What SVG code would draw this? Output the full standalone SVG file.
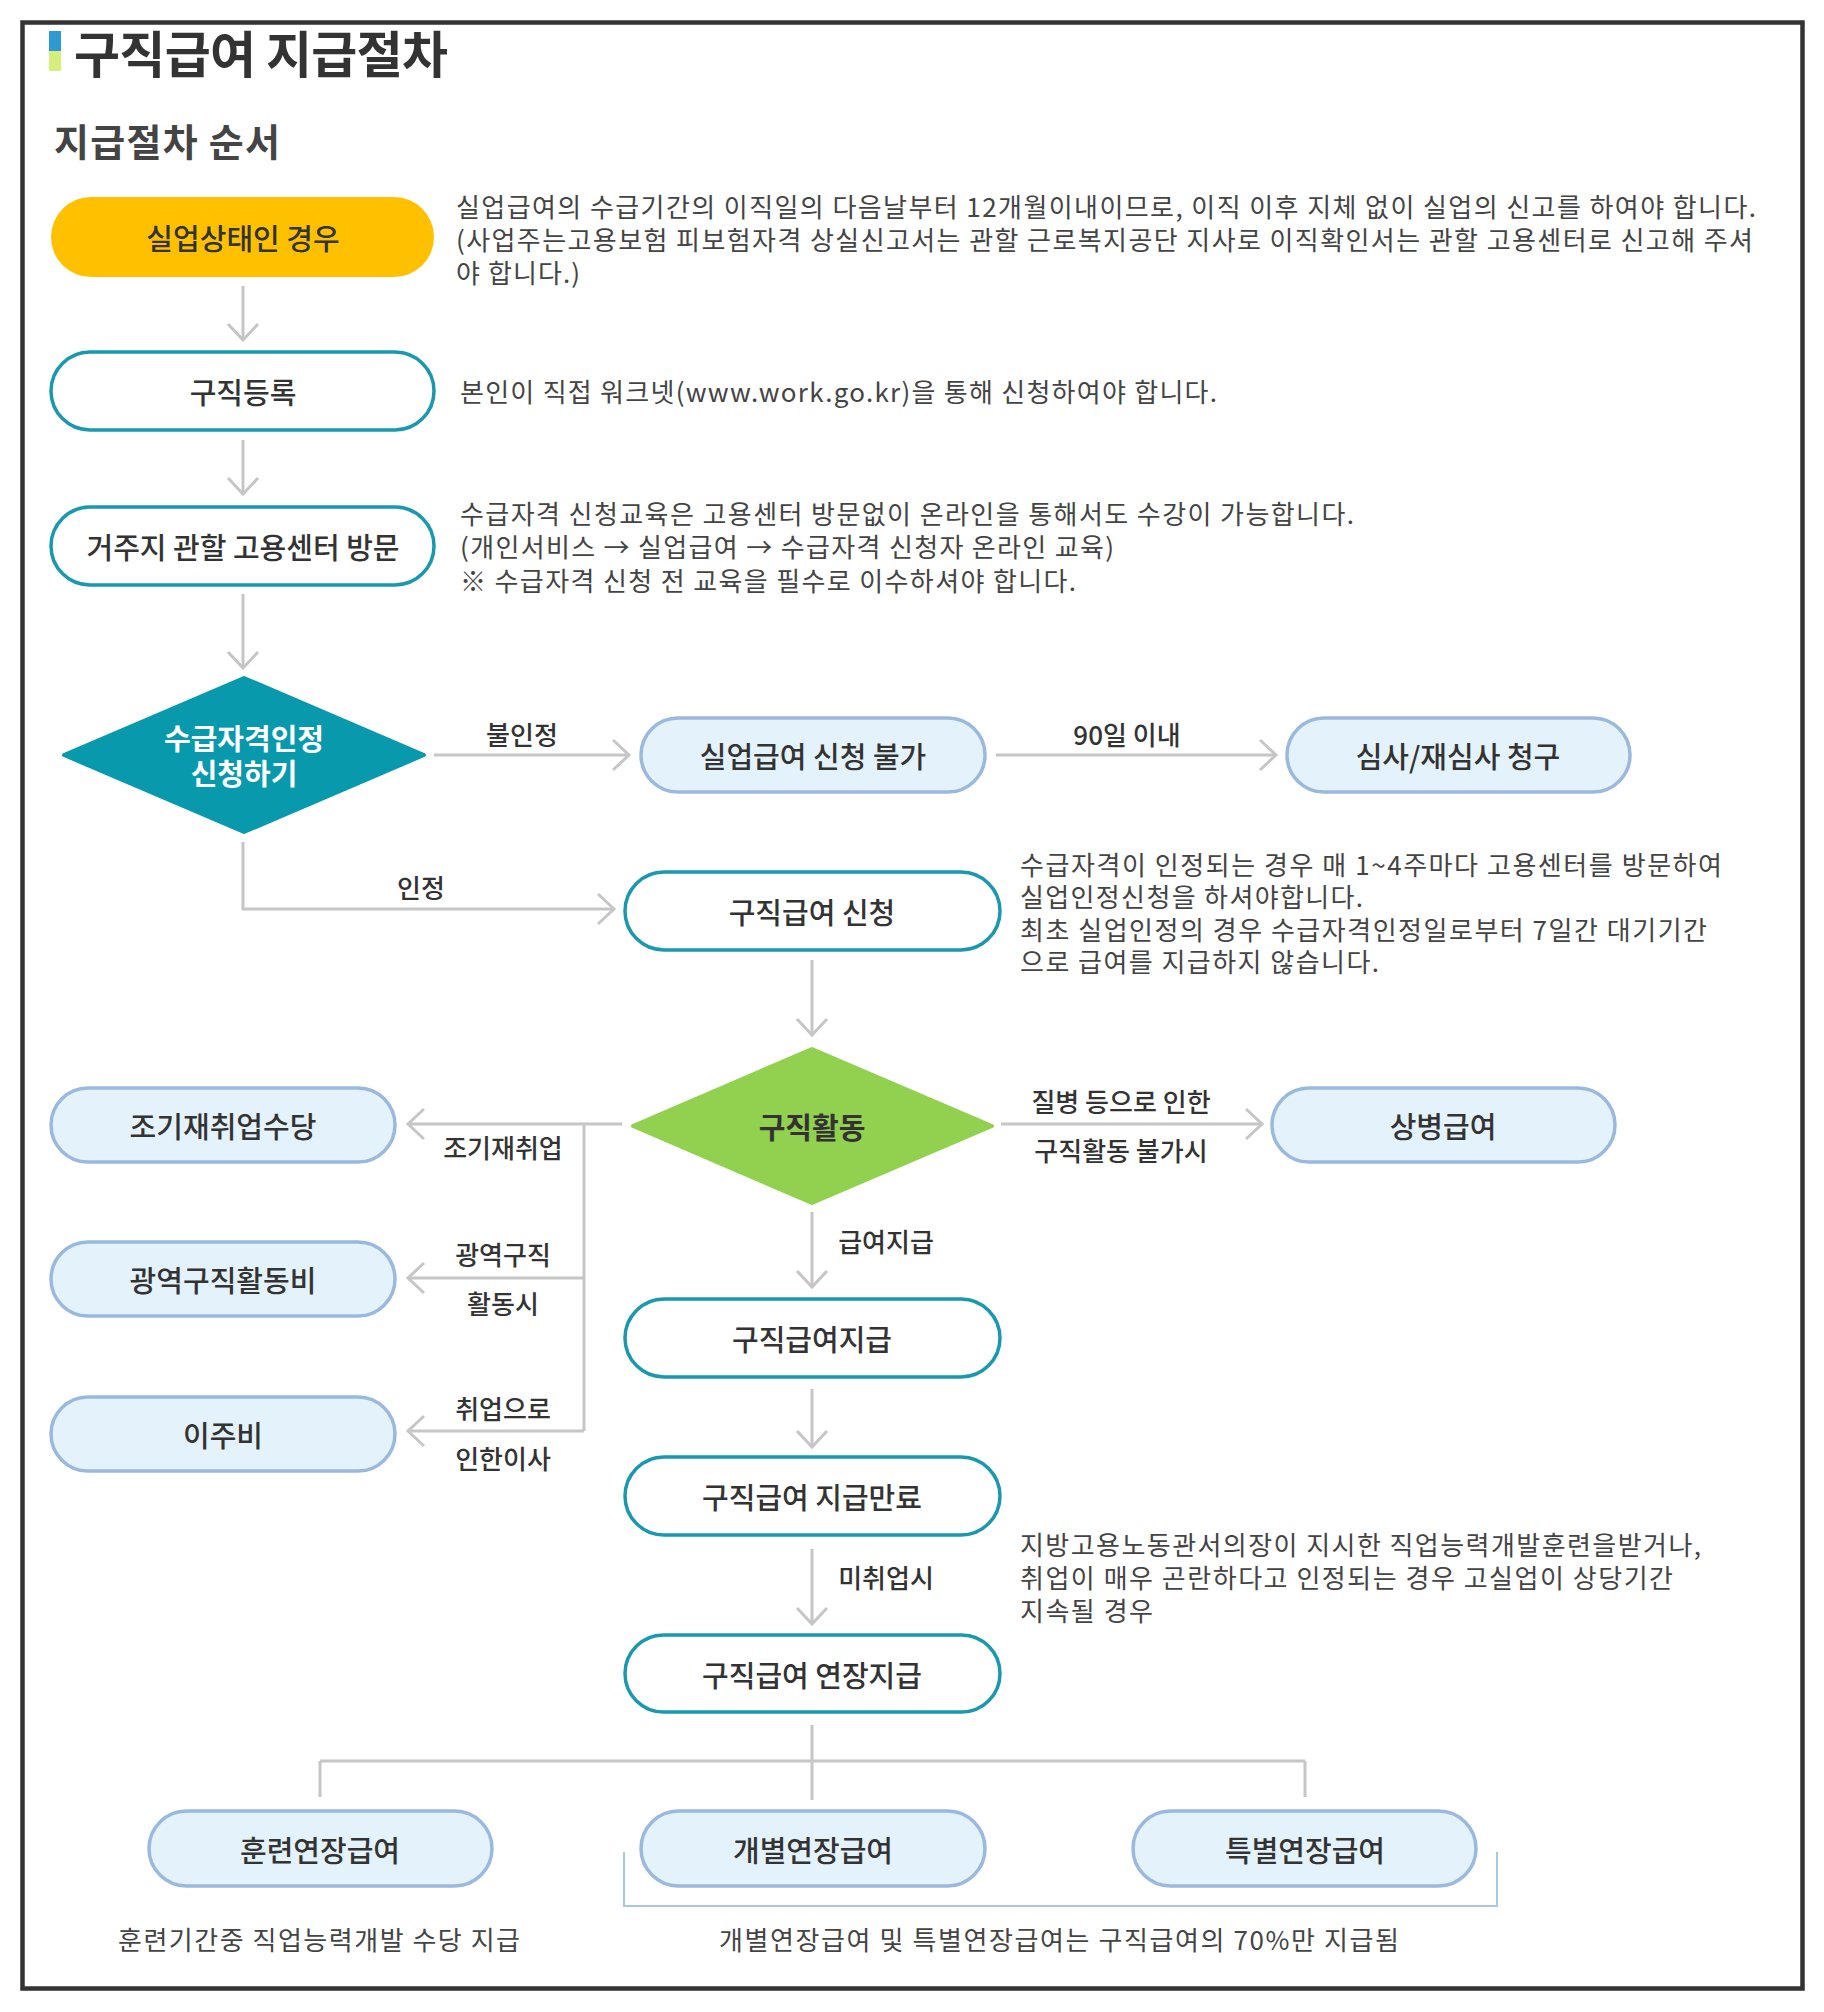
<svg xmlns="http://www.w3.org/2000/svg" width="1824" height="2012" viewBox="0 0 1824 2012">
<style>
text{font-family:"Noto Sans CJK KR","Noto Sans",sans-serif;dominant-baseline:central}
.body{font-size:26px;fill:#444}
.lbl{font-size:26px;fill:#333;font-weight:500;text-anchor:middle}
.node{font-size:29px;fill:#333;font-weight:500;text-anchor:middle}
.teal{fill:#fff;stroke:#1a98ae;stroke-width:3.5}
.blue{fill:#e4f2fb;stroke:#9bb9df;stroke-width:3.5}
.con{fill:none;stroke:#c6c6c6;stroke-width:3}
.arr{marker-end:url(#ah)}
</style>
<defs>
<marker id="ah" markerUnits="userSpaceOnUse" markerWidth="22" markerHeight="34" refX="18" refY="16" orient="auto" overflow="visible">
<path d="M2,1 L18,16 L2,31" fill="none" stroke="#c6c6c6" stroke-width="3"/>
</marker>
</defs>
<rect x="0" y="0" width="1824" height="2012" fill="#fff"/>
<rect x="22.5" y="22.5" width="1780" height="1966" fill="#fff" stroke="#333" stroke-width="4.5"/>
<g id="title">
<rect x="49" y="31" width="12" height="20" fill="#2f9ad2"/>
<rect x="49" y="51" width="12" height="20" fill="#d6ee7c"/>
<text x="74" y="51" style="font-size:50px;font-weight:bold;fill:#333" textLength="374">구직급여 지급절차</text>
<text x="54" y="139" style="font-size:38px;font-weight:bold;fill:#444" textLength="226">지급절차 순서</text>
</g>
<g id="connectors">
<path class="con arr" d="M243,286 V340"/>
<path class="con arr" d="M243,440 V494"/>
<path class="con arr" d="M243,594 V668"/>
<path class="con arr" d="M434,755 H629"/>
<path class="con arr" d="M996,755 H1276"/>
<path class="con arr" d="M243,842 V909 H614"/>
<path class="con arr" d="M812,960 V1035"/>
<path class="con arr" d="M622,1124 H408"/>
<path class="con" d="M584,1124 V1431"/>
<path class="con arr" d="M584,1278 H408"/>
<path class="con arr" d="M584,1431 H408"/>
<path class="con arr" d="M1001,1124 H1262"/>
<path class="con arr" d="M812,1212 V1287"/>
<path class="con arr" d="M812,1389 V1447"/>
<path class="con arr" d="M812,1549 V1624"/>
<path class="con" d="M812,1725 V1800 M320,1761 H1305 M320,1761 V1797 M1305,1761 V1797"/>
<path d="M624,1852 V1906 H1497 V1852" fill="none" stroke="#a9c5e8" stroke-width="2"/>
<text class="lbl" x="522" y="733">불인정</text>
<text class="lbl" x="1127" y="733">90일 이내</text>
<text class="lbl" x="421" y="886">인정</text>
<text class="lbl" x="503" y="1146">조기재취업</text>
<text class="lbl" x="503" y="1253">광역구직</text>
<text class="lbl" x="503" y="1302">활동시</text>
<text class="lbl" x="503" y="1407">취업으로</text>
<text class="lbl" x="503" y="1457">인한이사</text>
<text class="lbl" x="1121" y="1100">질병 등으로 인한</text>
<text class="lbl" x="1121" y="1149">구직활동 불가시</text>
<text class="lbl" x="886" y="1240">급여지급</text>
<text class="lbl" x="886" y="1576">미취업시</text>
</g>
<g id="n-unemployed">
<rect x="51" y="197" width="383" height="80" rx="40" fill="#ffc000"/>
<text class="node" x="243" y="237">실업상태인 경우</text>
</g>
<g id="n-register">
<rect class="teal" x="51" y="352" width="383" height="78" rx="39"/>
<text class="node" x="243" y="391">구직등록</text>
</g>
<g id="n-visit">
<rect class="teal" x="51" y="507" width="383" height="78" rx="39"/>
<text class="node" x="243" y="546">거주지 관할 고용센터 방문</text>
</g>
<g id="n-qualify">
<path d="M244,678 L424,755 L244,832 L64,755 Z" fill="#0899ad" stroke="#0899ad" stroke-width="4" stroke-linejoin="round"/>
<text class="node" x="244" y="737" style="fill:#fff;font-weight:bold">수급자격인정</text>
<text class="node" x="244" y="772" style="fill:#fff;font-weight:bold">신청하기</text>
</g>
<g id="n-reject">
<rect class="blue" x="641" y="718" width="344" height="74" rx="37"/>
<text class="node" x="813" y="755">실업급여 신청 불가</text>
</g>
<g id="n-review">
<rect class="blue" x="1287" y="718" width="343" height="74" rx="37"/>
<text class="node" x="1458" y="755">심사/재심사 청구</text>
</g>
<g id="n-apply">
<rect class="teal" x="625" y="872" width="375" height="78" rx="39"/>
<text class="node" x="812" y="911">구직급여 신청</text>
</g>
<g id="n-activity">
<path d="M812,1049 L992,1126 L812,1203 L633,1126 Z" fill="#92d050" stroke="#92d050" stroke-width="4" stroke-linejoin="round"/>
<text class="node" x="812" y="1126" style="font-weight:bold">구직활동</text>
</g>
<g id="n-early">
<rect class="blue" x="51" y="1088" width="344" height="74" rx="37"/>
<text class="node" x="223" y="1125">조기재취업수당</text>
</g>
<g id="n-wide">
<rect class="blue" x="51" y="1242" width="344" height="74" rx="37"/>
<text class="node" x="223" y="1279">광역구직활동비</text>
</g>
<g id="n-move">
<rect class="blue" x="51" y="1397" width="344" height="74" rx="37"/>
<text class="node" x="223" y="1434">이주비</text>
</g>
<g id="n-sick">
<rect class="blue" x="1272" y="1088" width="343" height="74" rx="37"/>
<text class="node" x="1443" y="1125">상병급여</text>
</g>
<g id="n-pay">
<rect class="teal" x="625" y="1299" width="375" height="78" rx="39"/>
<text class="node" x="812" y="1338">구직급여지급</text>
</g>
<g id="n-end">
<rect class="teal" x="625" y="1457" width="375" height="78" rx="39"/>
<text class="node" x="812" y="1496">구직급여 지급만료</text>
</g>
<g id="n-extend">
<rect class="teal" x="625" y="1635" width="375" height="77" rx="38.5"/>
<text class="node" x="812" y="1674">구직급여 연장지급</text>
</g>
<g id="n-training">
<rect class="blue" x="149" y="1811" width="343" height="75" rx="37.5"/>
<text class="node" x="320" y="1849">훈련연장급여</text>
</g>
<g id="n-individual">
<rect class="blue" x="641" y="1811" width="344" height="75" rx="37.5"/>
<text class="node" x="813" y="1849">개별연장급여</text>
</g>
<g id="n-special">
<rect class="blue" x="1133" y="1811" width="343" height="75" rx="37.5"/>
<text class="node" x="1305" y="1849">특별연장급여</text>
</g>
<g id="notes">
<text class="body" x="456" y="205" textLength="1300">실업급여의 수급기간의 이직일의 다음날부터 12개월이내이므로, 이직 이후 지체 없이 실업의 신고를 하여야 합니다.</text>
<text class="body" x="456" y="238" textLength="1297">(사업주는고용보험 피보험자격 상실신고서는 관할 근로복지공단 지사로 이직확인서는 관할 고용센터로 신고해 주셔</text>
<text class="body" x="456" y="271" textLength="124">야 합니다.)</text>
<text class="body" x="460" y="390" textLength="757">본인이 직접 워크넷(www.work.go.kr)을 통해 신청하여야 합니다.</text>
<text class="body" x="460" y="512" textLength="894">수급자격 신청교육은 고용센터 방문없이 온라인을 통해서도 수강이 가능합니다.</text>
<text class="body" x="460" y="545" textLength="654">(개인서비스 → 실업급여 → 수급자격 신청자 온라인 교육)</text>
<text class="body" x="460" y="579" textLength="616">※ 수급자격 신청 전 교육을 필수로 이수하셔야 합니다.</text>
<text class="body" x="1020" y="863" textLength="702">수급자격이 인정되는 경우 매 1~4주마다 고용센터를 방문하여</text>
<text class="body" x="1020" y="895" textLength="343">실업인정신청을 하셔야합니다.</text>
<text class="body" x="1020" y="928" textLength="687">최초 실업인정의 경우 수급자격인정일로부터 7일간 대기기간</text>
<text class="body" x="1020" y="960" textLength="359">으로 급여를 지급하지 않습니다.</text>
<text class="body" x="1020" y="1543" textLength="681">지방고용노동관서의장이 지시한 직업능력개발훈련을받거나,</text>
<text class="body" x="1020" y="1576" textLength="653">취업이 매우 곤란하다고 인정되는 경우 고실업이 상당기간</text>
<text class="body" x="1020" y="1609" textLength="133">지속될 경우</text>
<text class="body" x="118" y="1938" textLength="402">훈련기간중 직업능력개발 수당 지급</text>
<text class="body" x="719" y="1938" textLength="680">개별연장급여 및 특별연장급여는 구직급여의 70%만 지급됨</text>
</g>
</svg>
